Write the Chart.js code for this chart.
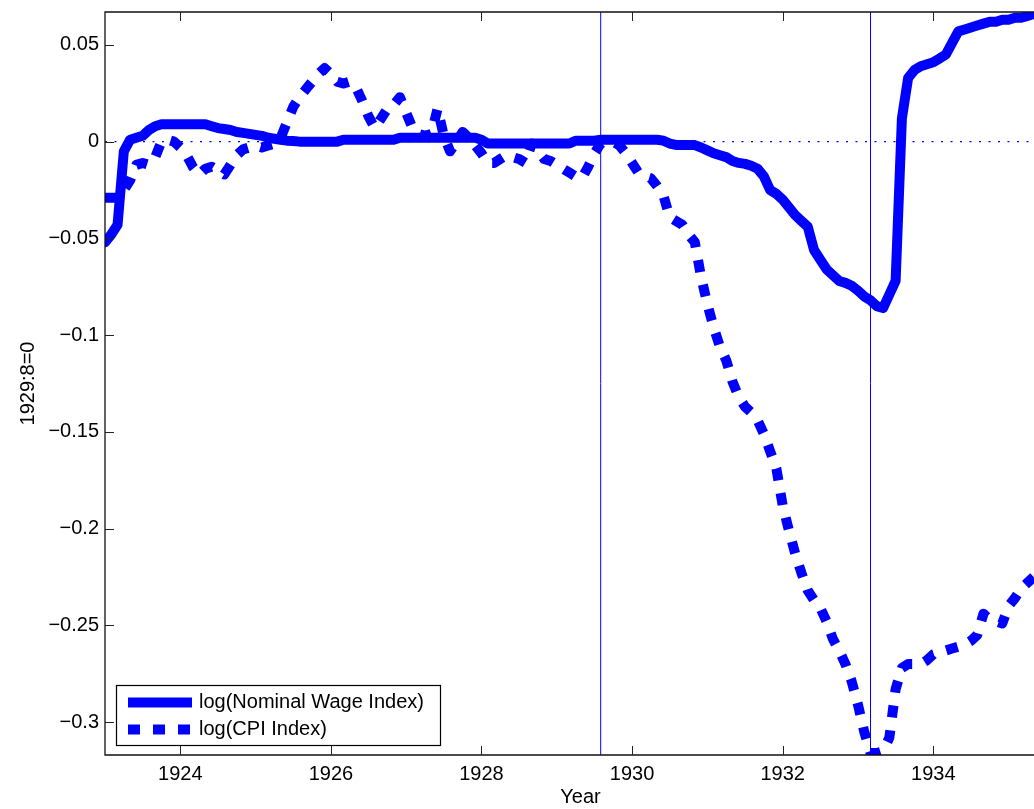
<!DOCTYPE html>
<html>
<head>
<meta charset="utf-8">
<script src="https://cdn.jsdelivr.net/npm/chart.js@4.4.1/dist/chart.umd.min.js"></script>
<style>
  html, body { margin: 0; padding: 0; background: #fff; overflow: hidden; }
  #wrap { width: 1056px; height: 809px; }
</style>
</head>
<body>
<div id="wrap"><canvas id="chart" width="1056" height="809"></canvas></div>
<script>
// monthly observations, first one is 1923:1
const startYear = 1923;

// log(Nominal Wage Index), 1929:8 = 0
const wageLog = [
  -0.052, -0.048, -0.043, -0.005, 0.001, 0.002, 0.003, 0.006, 0.008, 0.009, 0.009, 0.009,
  0.009, 0.009, 0.009, 0.009, 0.009, 0.008, 0.007, 0.0065, 0.006, 0.005, 0.0045, 0.004,
  0.0035, 0.003, 0.002, 0.0015, 0.001, 0.0005, 0.0003, 0, 0, 0, 0, 0,
  0, 0, 0.001, 0.001, 0.001, 0.001, 0.001, 0.001, 0.001, 0.001, 0.001, 0.002,
  0.002, 0.002, 0.002, 0.002, 0.002, 0.002, 0.002, 0.002, 0.002, 0.002, 0.002, 0.002,
  0.001, -0.001, -0.001, -0.001, -0.001, -0.001, -0.001, -0.001, -0.001, -0.001, -0.001, -0.001,
  -0.001, -0.001, -0.001, 0.0005, 0.0005, 0.0005, 0.0005, 0.001, 0.001, 0.001, 0.001, 0.001,
  0.001, 0.001, 0.001, 0.001, 0.001, 0.0005, -0.001, -0.0017, -0.0017, -0.0017, -0.0018, -0.003,
  -0.0045, -0.006, -0.007, -0.008, -0.010, -0.011, -0.0115, -0.0125, -0.014, -0.018, -0.025, -0.027,
  -0.030, -0.034, -0.038, -0.041, -0.044, -0.056, -0.061, -0.066, -0.069, -0.072, -0.073, -0.0745,
  -0.077, -0.080, -0.082, -0.085, -0.086, -0.079, -0.072, 0.012, 0.033, 0.037, 0.039, 0.040,
  0.041, 0.043, 0.045, 0.051, 0.057, 0.058, 0.059, 0.060, 0.061, 0.062, 0.062, 0.063,
  0.063, 0.064, 0.064, 0.065, 0.066
];

// log(CPI Index), 1929:8 = 0
const cpiLog = [
  -0.029, -0.029, -0.029, -0.025, -0.020, -0.012, -0.011, -0.012, -0.008, 0.000, 0.001, 0.000,
  -0.003, -0.007, -0.013, -0.017, -0.014, -0.013, -0.015, -0.017, -0.012, -0.007, -0.004, -0.003,
  -0.002, -0.003, -0.002, -0.001, 0.002, 0.010, 0.018, 0.023, 0.027, 0.031, 0.035, 0.038,
  0.035, 0.031, 0.030, 0.031, 0.028, 0.021, 0.013, 0.007, 0.012, 0.017, 0.019, 0.023,
  0.015, 0.007, 0.004, 0.003, 0.004, 0.017, 0.003, -0.005, 0.000, 0.005, 0.002, -0.002,
  -0.006, -0.011, -0.011, -0.009, -0.007, -0.008, -0.009, -0.011, -0.001, -0.005, -0.009, -0.010,
  -0.012, -0.014, -0.016, -0.018, -0.019, -0.013, -0.006, -0.001, 0.000, 0.000, -0.002, -0.006,
  -0.011, -0.016, -0.018, -0.019, -0.023, -0.028, -0.039, -0.041, -0.043, -0.048, -0.052, -0.070,
  -0.084, -0.096, -0.106, -0.113, -0.124, -0.132, -0.137, -0.140, -0.144, -0.151, -0.160, -0.169,
  -0.188, -0.201, -0.213, -0.223, -0.232, -0.237, -0.241, -0.248, -0.257, -0.263, -0.270, -0.279,
  -0.291, -0.305, -0.316, -0.316, -0.315, -0.308, -0.283, -0.272, -0.270, -0.270, -0.270, -0.268,
  -0.265, -0.264, -0.263, -0.262, -0.261, -0.260, -0.258, -0.255, -0.244, -0.247, -0.248, -0.249,
  -0.240, -0.236, -0.231, -0.228, -0.225
];

const seriesNames = ['log(Nominal Wage Index)', 'log(CPI Index)'];
const eventDates = [1929 + 7 / 12, 1933 + 2 / 12]; // 1929:8 and 1933:3
const xTicks = [1924, 1926, 1928, 1930, 1932, 1934];
const yTicks = [-0.3, -0.25, -0.2, -0.15, -0.1, -0.05, 0, 0.05];
const yTickLabels = ['\u22120.3', '\u22120.25', '\u22120.2', '\u22120.15', '\u22120.1', '\u22120.05', '0', '0.05'];

const xMin = 1923, xMax = 1935.63;
const yMin = -0.317, yMax = 0.067;
const BLUE = '#0000ff';
const FONT = { family: '"Liberation Sans", Arial, Helvetica, sans-serif', size: 20 };

const toPoints = (vals) => vals.map((v, i) => ({ x: startYear + i / 12, y: v }));

const refLines = eventDates.map((d) => ({
  data: [{ x: d, y: yMin }, { x: d, y: yMax }],
  borderColor: BLUE, borderWidth: 1, pointRadius: 0, order: 2,
}));

const matlabFrame = {
  id: 'matlabFrame',
  afterDraw(chart) {
    const { ctx, chartArea: a } = chart;
    const xs = chart.scales.x, ys = chart.scales.y;
    ctx.save();
    ctx.strokeStyle = '#111';
    ctx.lineWidth = 1.3;
    ctx.beginPath();
    ctx.moveTo(a.right, a.top); ctx.lineTo(a.left, a.top);
    ctx.lineTo(a.left, a.bottom); ctx.lineTo(a.right, a.bottom);
    ctx.stroke();
    ctx.lineWidth = 1;
    ctx.strokeStyle = '#222';
    ctx.beginPath();
    xTicks.forEach((t) => {
      const px = Math.round(xs.getPixelForValue(t)) + 0.5;
      ctx.moveTo(px, a.bottom); ctx.lineTo(px, a.bottom - 9);
      ctx.moveTo(px, a.top); ctx.lineTo(px, a.top + 9);
    });
    yTicks.forEach((t) => {
      const py = Math.round(ys.getPixelForValue(t)) + 0.5;
      ctx.moveTo(a.left, py); ctx.lineTo(a.left + 9, py);
    });
    ctx.stroke();

    // legend box, lower left inside the axes
    const bx = 116, by = 685, bw = 324, bh = 60;
    ctx.fillStyle = '#fff';
    ctx.fillRect(bx, by, bw, bh);
    ctx.strokeStyle = '#000';
    ctx.lineWidth = 1.2;
    ctx.strokeRect(bx + 0.5, by + 0.5, bw, bh);
    const rows = [702.5, 729.5];
    chart.data.datasets.slice(0, 2).forEach((ds, i) => {
      ctx.strokeStyle = ds.borderColor;
      ctx.lineWidth = ds.borderWidth;
      ctx.lineCap = 'butt';
      ctx.setLineDash(ds.borderDash || []);
      ctx.beginPath();
      ctx.moveTo(128, rows[i]); ctx.lineTo(192, rows[i]);
      ctx.stroke();
      ctx.setLineDash([]);
      ctx.fillStyle = '#000';
      ctx.font = `${FONT.size}px ${FONT.family}`;
      ctx.textBaseline = 'middle';
      ctx.textAlign = 'left';
      ctx.fillText(ds.label, 199, rows[i]);
    });
    ctx.restore();
  },
};

new Chart(document.getElementById('chart'), {
  type: 'line',
  data: {
    datasets: [
      {
        label: seriesNames[0], data: toPoints(wageLog),
        borderColor: BLUE, borderWidth: 10, pointRadius: 0,
        borderJoinStyle: 'round', borderCapStyle: 'round', order: 1, clip: 0,
      },
      {
        label: seriesNames[1], data: toPoints(cpiLog),
        borderColor: BLUE, borderWidth: 10, borderDash: [12, 13], pointRadius: 0,
        borderJoinStyle: 'round', borderCapStyle: 'butt', order: 0, clip: 0,
      },
      {
        data: [{ x: xMin, y: 0 }, { x: xMax, y: 0 }],
        borderColor: BLUE, borderWidth: 1.3, borderDash: [2, 7.5], pointRadius: 0, order: 3,
      },
      ...refLines,
    ],
  },
  options: {
    responsive: false,
    animation: false,
    layout: { padding: { left: 0, right: 0, top: 12, bottom: 0 } },
    plugins: { legend: { display: false }, tooltip: { enabled: false } },
    scales: {
      x: {
        type: 'linear', min: xMin, max: xMax,
        grid: { display: false, drawTicks: false },
        border: { display: false },
        afterBuildTicks: (s) => { s.ticks = xTicks.map((v) => ({ value: v })); },
        afterFit: (s) => { s.height = 54; s.paddingLeft = 0; s.paddingRight = 0; },
        ticks: { color: '#000', font: FONT, padding: 7, maxRotation: 0, callback: (v) => String(v) },
        title: { display: true, text: 'Year', color: '#000', font: FONT, padding: { top: 0, bottom: 0 } },
      },
      y: {
        type: 'linear', min: yMin, max: yMax,
        grid: { display: false, drawTicks: false },
        border: { display: false },
        afterBuildTicks: (s) => { s.ticks = yTicks.map((v) => ({ value: v })); },
        afterFit: (s) => { s.width = 105; s.paddingTop = 0; s.paddingBottom = 0; },
        ticks: { color: '#000', font: FONT, padding: 6, callback: (v, i) => yTickLabels[i] },
        title: { display: true, text: '1929:8=0', color: '#000', font: FONT, padding: { top: 16, bottom: 0 } },
      },
    },
  },
  plugins: [matlabFrame],
});
</script>
</body>
</html>
